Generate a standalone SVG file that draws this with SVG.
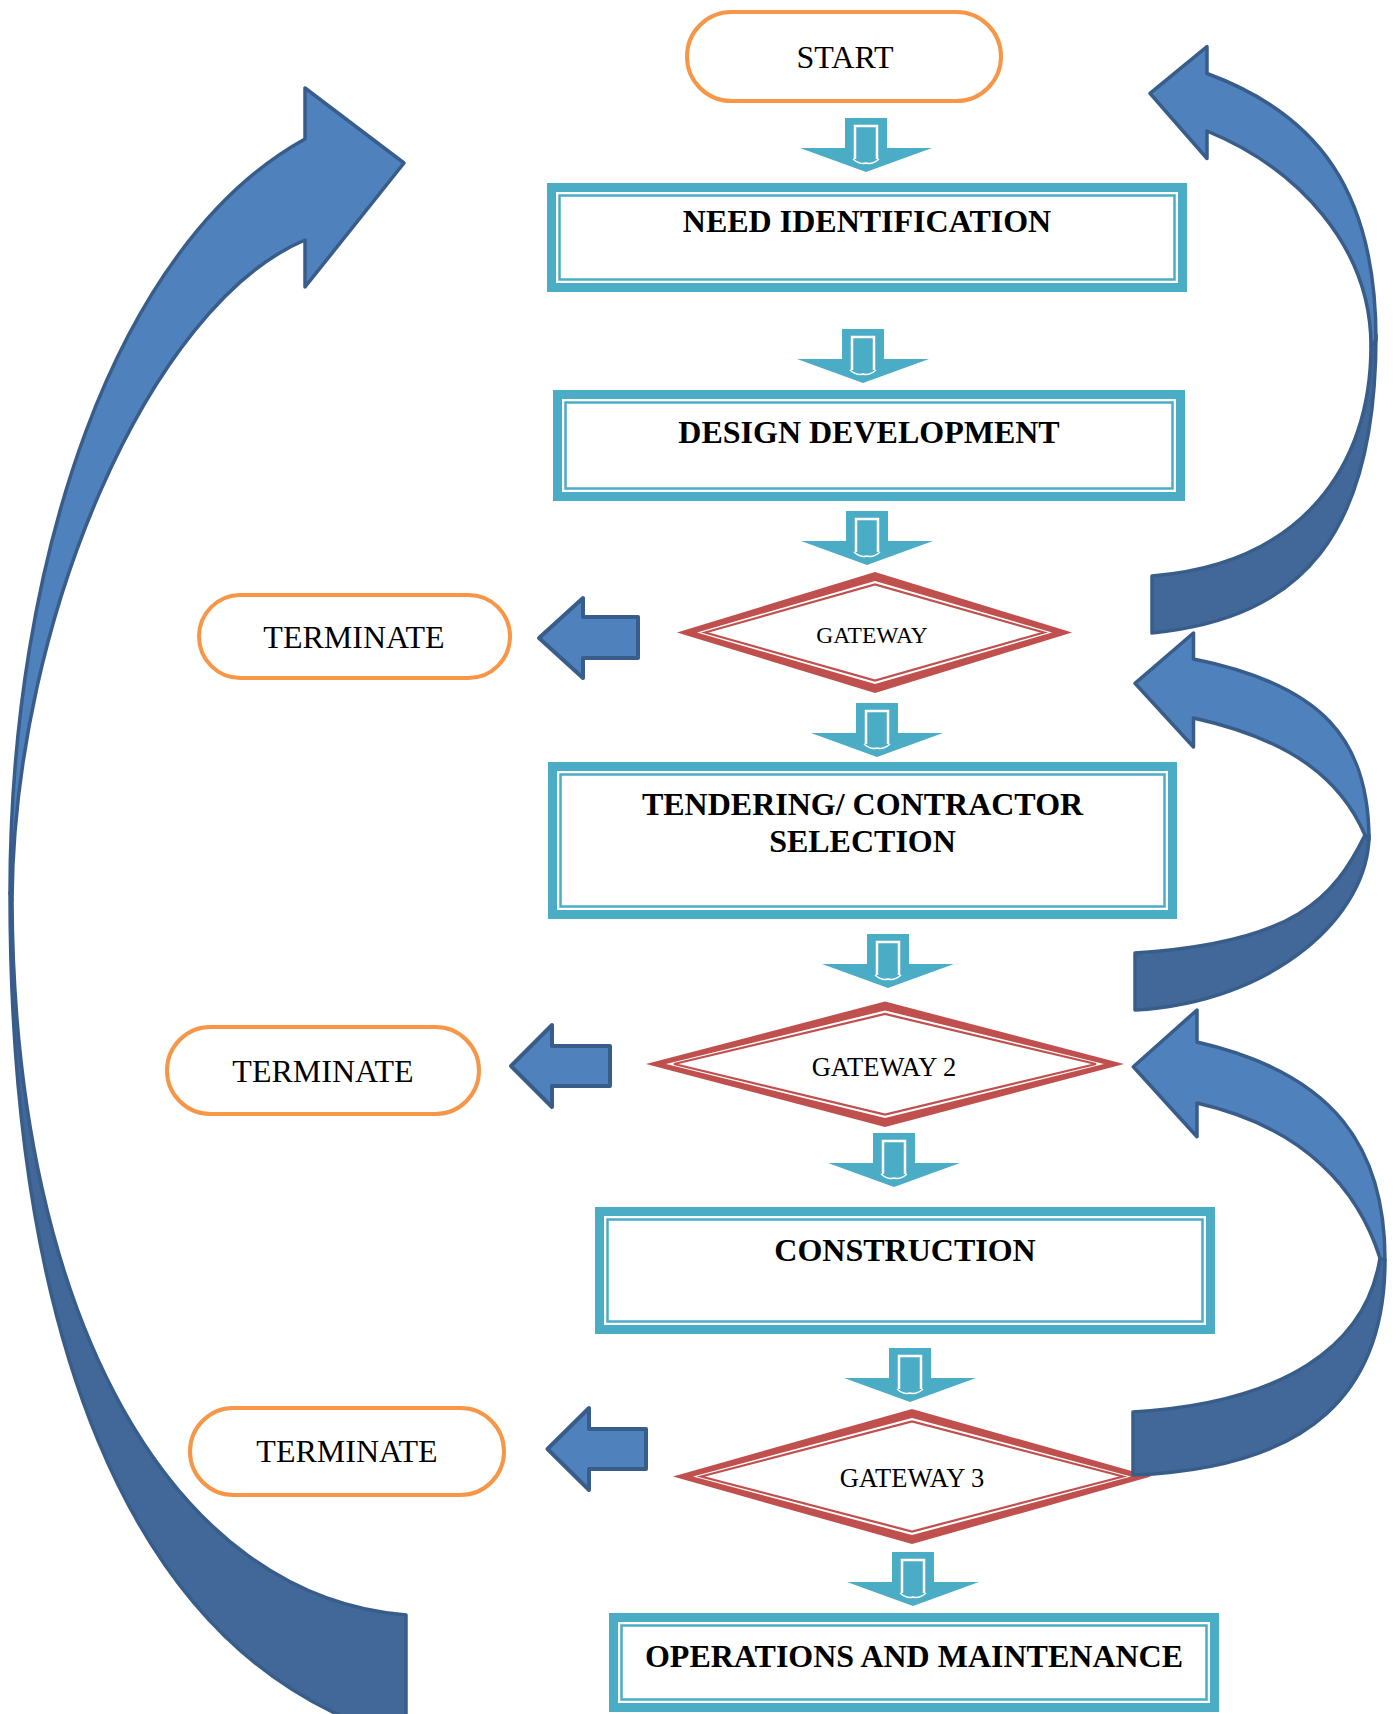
<svg xmlns="http://www.w3.org/2000/svg" width="1398" height="1714" viewBox="0 0 1398 1714">
<style>
.term{fill:#fff;stroke:#F79646;stroke-width:4}
.pbo{fill:#fff;stroke:#4BACC6;stroke-width:9}
.pbi{fill:none;stroke:#4BACC6;stroke-width:2.5}
.dmo{fill:#C0504D}
.dmw{fill:#fff}
.dml{fill:none;stroke:#C0504D;stroke-width:2.2}
.t{font-family:"Liberation Serif","Times New Roman",serif;fill:#000;text-anchor:middle}
.b{font-weight:bold;font-size:32px}
.r{font-size:32px}
.la{fill:#4F81BD;stroke:#385D8A;stroke-width:4;stroke-linejoin:round}
.cl{fill:#4F81BD;stroke:#385D8A;stroke-width:3.5;stroke-linejoin:round}
.cd{fill:#416898;stroke:#385D8A;stroke-width:3.5;stroke-linejoin:round}
</style>
<defs>
<g id="dn">
<path d="M-21,-54H21V-24H66L0,0L-66,-24H-21Z" fill="#4BACC6"/>
<path d="M-11,-13V-46H11V-13" fill="none" stroke="#fff" stroke-width="2.5"/>
<path d="M-13,-13Q-6,-7 0,-9Q6,-7 13,-13" fill="none" stroke="#fff" stroke-width="1.5"/>
</g>
</defs>
<rect width="1398" height="1714" fill="#fff"/>

<g id="connectors">
  <use href="#dn" x="866" y="172"/>
  <use href="#dn" x="863" y="383"/>
  <use href="#dn" x="867" y="565"/>
  <use href="#dn" x="877" y="757"/>
  <use href="#dn" x="888" y="988"/>
  <use href="#dn" x="894" y="1187"/>
  <use href="#dn" x="910" y="1402"/>
  <use href="#dn" x="913" y="1606"/>
  <path class="la" d="M539,638 L583,598 V617 H638 V658 H583 V678 Z"/>
  <path class="la" d="M511,1066 L552,1025 V1046 H610 V1086 H552 V1107 Z"/>
  <path class="la" d="M547.5,1449 L589,1408 V1429 H646 V1469 H589 V1490 Z"/>
</g>

<g id="start">
  <rect class="term" x="687" y="12" width="314" height="89" rx="44.5"/>
  <text class="t r" x="845" y="68">START</text>
</g>
<g id="need-identification">
  <rect class="pbo" x="551.5" y="187.5" width="631" height="100"/>
  <rect class="pbi" x="559.5" y="195.5" width="615" height="84"/>
  <text class="t b" x="867" y="232">NEED IDENTIFICATION</text>
</g>
<g id="design-development">
  <rect class="pbo" x="557.5" y="394.5" width="623" height="102"/>
  <rect class="pbi" x="565.5" y="402.5" width="607" height="86"/>
  <text class="t b" x="869" y="443">DESIGN DEVELOPMENT</text>
</g>
<g id="gateway-1">
  <polygon class="dmo" points="677,632.5 875,572 1072,632.5 875,693"/>
  <polygon class="dmw" points="697,632.5 875,581 1052,632.5 875,684"/>
  <polygon class="dml" points="705,632.5 875,584.5 1044,632.5 875,680.5"/>
  <text class="t" x="872" y="643" font-size="23.5">GATEWAY</text>
</g>
<g id="terminate-1">
  <rect class="term" x="199" y="595" width="311" height="83" rx="41.5"/>
  <text class="t r" x="354" y="648">TERMINATE</text>
</g>
<g id="tendering">
  <rect class="pbo" x="552.5" y="766.5" width="620" height="148"/>
  <rect class="pbi" x="560.5" y="774.5" width="604" height="132"/>
  <text class="t b" x="862.5" y="815">TENDERING/ CONTRACTOR</text>
  <text class="t b" x="862.5" y="852">SELECTION</text>
</g>
<g id="gateway-2">
  <polygon class="dmo" points="646,1064 885,1001.5 1124,1064 885,1127"/>
  <polygon class="dmw" points="666,1064 885,1010.5 1104,1064 885,1118"/>
  <polygon class="dml" points="674,1064 885,1014 1096,1064 885,1114.5"/>
  <text class="t" x="884" y="1076" font-size="26.5">GATEWAY 2</text>
</g>
<g id="terminate-2">
  <rect class="term" x="167" y="1027" width="312" height="87" rx="43.5"/>
  <text class="t r" x="323" y="1082">TERMINATE</text>
</g>
<g id="construction">
  <rect class="pbo" x="599.5" y="1211.5" width="611" height="118"/>
  <rect class="pbi" x="607.5" y="1219.5" width="595" height="102"/>
  <text class="t b" x="905" y="1261">CONSTRUCTION</text>
</g>
<g id="gateway-3">
  <polygon class="dmo" points="673,1476.5 912,1409 1151,1476.5 912,1544"/>
  <polygon class="dmw" points="693,1476.5 912,1418 1131,1476.5 912,1535"/>
  <polygon class="dml" points="701,1476.5 912,1421.5 1123,1476.5 912,1531.5"/>
  <text class="t" x="912" y="1487" font-size="26.5">GATEWAY 3</text>
</g>
<g id="terminate-3">
  <rect class="term" x="190" y="1408" width="314" height="87" rx="43.5"/>
  <text class="t r" x="347" y="1462">TERMINATE</text>
</g>
<g id="operations-maintenance">
  <rect class="pbo" x="613.5" y="1617.5" width="601" height="90"/>
  <rect class="pbi" x="621.5" y="1625.5" width="585" height="74"/>
  <text class="t b" x="914" y="1667">OPERATIONS AND MAINTENANCE</text>
</g>

<g id="loop-arrows">
  <path class="cd" d="M10,893 C10,1340 130,1630 355,1722 L406,1722 L406,1615 C176,1597 14,1325 12,900 Z"/>
  <path class="cl" d="M404,163 L305,88 L305,139 C115,244 10,560 10,893 L12,900 C14,620 150,305 305,240 L305,287 Z"/>
  <path class="cd" d="M1152,576 C1302,564 1371,466 1371,346 L1376,335 C1376,535 1302,618 1152,633 Z"/>
  <path class="cl" d="M1150,93.3 L1207,46.6 L1207,73.5 C1317,114 1376,190 1376,340 L1371,346 C1371,246 1297,168 1207,131 L1207,158.5 Z"/>
  <path class="cd" d="M1135,953 C1295,943 1334,898 1365,835 L1369,835 C1369,915 1275,1002 1135,1010 Z"/>
  <path class="cl" d="M1135,683.3 L1193.5,633 L1193.5,659 C1323,685 1369,740 1369,840 L1365,835 C1341,780 1293,740 1193.5,718 L1193.5,747 Z"/>
  <path class="cd" d="M1133,1412 C1283,1403 1366,1347 1380,1258 L1385,1260 C1385,1390 1313,1468 1133,1475 Z"/>
  <path class="cl" d="M1133.3,1066.7 L1197,1010 L1197,1042 C1337,1074 1385,1150 1385,1260 L1380,1258 C1359,1191.5 1307,1128 1197,1103 L1197,1136.7 Z"/>
</g>
</svg>
